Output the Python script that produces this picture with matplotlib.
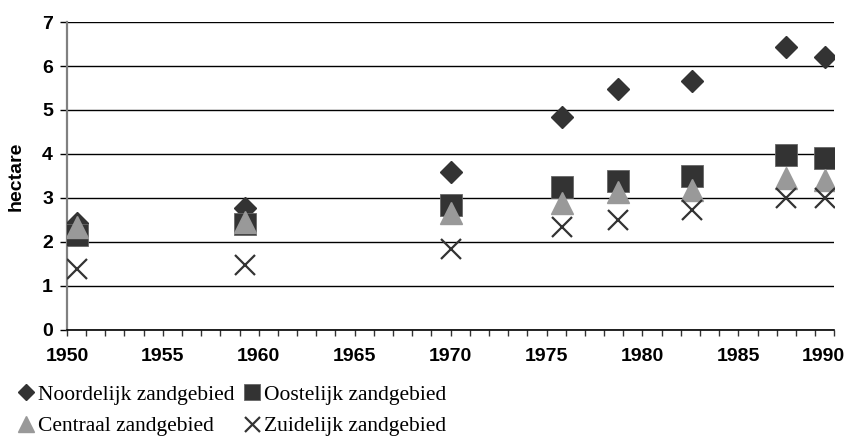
import matplotlib.pyplot as plt
from matplotlib.ticker import MultipleLocator

# survey years (positions)
years = [1950.5, 1959.3, 1970.0, 1975.8, 1978.7, 1982.6, 1987.5, 1989.5]

noordelijk = [2.42, 2.77, 3.60, 4.85, 5.47, 5.67, 6.43, 6.20]
oostelijk = [2.15, 2.40, 2.85, 3.26, 3.38, 3.50, 3.98, 3.90]
centraal = [2.35, 2.45, 2.65, 2.88, 3.13, 3.19, 3.45, 3.41]
zuidelijk = [1.38, 1.48, 1.84, 2.33, 2.50, 2.72, 3.00, 3.00]

labels = ["Noordelijk zandgebied", "Oostelijk zandgebied",
          "Centraal zandgebied", "Zuidelijk zandgebied"]
xticks = [1950, 1955, 1960, 1965, 1970, 1975, 1980, 1985, 1990]

dark = "#333333"
grey = "#999999"
tick_font = {"family": "Liberation Sans", "weight": "bold", "size": 14}

fig = plt.figure(figsize=(8.47, 4.41), dpi=100)
ax = fig.add_axes([0.079, 0.252, 0.906, 0.698])

h1, = ax.plot(years, noordelijk, linestyle="none", marker="D", ms=11.2,
              color=dark, mec=dark, label=labels[0], zorder=3)
h2, = ax.plot(years, oostelijk, linestyle="none", marker="s", ms=15.5,
              color=dark, mec="#666666", mew=0.6, label=labels[1], zorder=4)
h3, = ax.plot(years, centraal, linestyle="none", marker="^", ms=15.5,
              color=grey, mec=grey, label=labels[2], zorder=5)
h4, = ax.plot(years, zuidelijk, linestyle="none", marker="x", ms=15,
              mew=1.6, color=dark, label=labels[3], zorder=6)

ax.set_xlim(1950, 1990)
ax.set_ylim(0, 7)
# last label is drawn separately, shifted left like the original
ax.set_xticks(xticks, [str(x) for x in xticks[:-1]] + [""])
ax.xaxis.set_minor_locator(MultipleLocator(1))
ax.yaxis.set_major_locator(MultipleLocator(1))
ax.grid(axis="y", color="black", linewidth=1.0, zorder=1)
ax.set_axisbelow(True)

for s in ("top", "right"):
    ax.spines[s].set_visible(False)
ax.spines["left"].set_color("#808080")
ax.spines["left"].set_linewidth(1.6)
ax.spines["bottom"].set_color("black")
ax.spines["bottom"].set_linewidth(1.2)

ax.tick_params(axis="x", which="both", direction="out", length=4.3,
               width=1, color="#333333", pad=9)
ax.tick_params(axis="y", direction="out", length=5, width=1,
               color="black", pad=5)

for lab in ax.get_xticklabels() + ax.get_yticklabels():
    lab.set_fontproperties(tick_font)

ax.annotate(str(xticks[-1]), xy=(xticks[-1], 0),
            xycoords=("data", "axes fraction"), xytext=(-8, -13.3),
            textcoords="offset points", ha="center", va="top",
            annotation_clip=False, **{"fontfamily": "Liberation Sans",
                                      "fontweight": "bold", "fontsize": 14})

ax.set_ylabel("hectare", fontfamily="Liberation Sans", fontweight="bold",
              fontsize=14)
ax.yaxis.set_label_coords(-0.055, 0.5)

fig.legend([h1, h3, h2, h4], [labels[0], labels[2], labels[1], labels[3]],
           ncol=2, loc="upper left", bbox_to_anchor=(0.02, 0.128),
           frameon=False, handlelength=0.84, handletextpad=0.14,
           columnspacing=0.4, labelspacing=0.54, markerscale=0.72,
           borderaxespad=0, borderpad=0,
           prop={"family": "Liberation Serif", "size": 15.5})

fig.savefig("out.png", dpi=100)
